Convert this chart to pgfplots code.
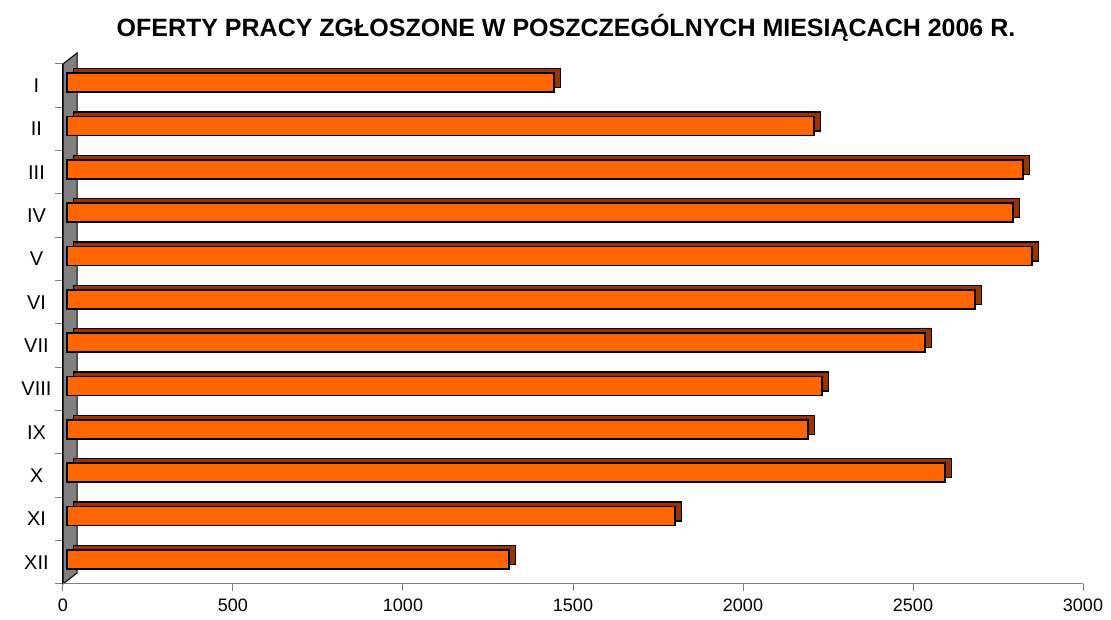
\documentclass[border=0pt]{standalone}
\usepackage{pgfplots}
\pgfplotsset{compat=1.18}
\usepackage{pgfplotstable}
\usepackage{fontspec}
\setmainfont{Liberation Sans}
\definecolor{barorange}{HTML}{FF6600}
\definecolor{bardark}{HTML}{993300}
\definecolor{wallgray}{HTML}{808080}
\definecolor{axgray}{HTML}{808080}

\pgfplotstableread{
pos v
12 1433
11 2197
10 2812
9 2782
8 2838
7 2671
6 2524
5 2221
4 2179
3 2582
2 1788
1 1300
}\datatable

\pgfplotsset{
  barbase/.style={
    at={(#1)}, anchor=south west, scale only axis,
    width=1020pt, height=520pt,
    xmin=0, xmax=3000, ymin=0.5, ymax=12.5,
    hide axis, clip=false,
    xbar, bar width=19pt,
  }
}

\begin{document}
\begin{tikzpicture}[x=1pt,y=1pt]
% back wall
\filldraw[fill=wallgray, draw=black, line width=1pt] (0,0) -- (0,520) -- (14,531) -- (14,11) -- cycle;

\begin{axis}[
  at={(0,0)}, anchor=south west, scale only axis,
  width=1020pt, height=520pt,
  xmin=0, xmax=3000, ymin=0.5, ymax=12.5,
  axis x line*=bottom, axis y line*=left,
  x axis line style={draw=axgray, line width=1pt},
  y axis line style={draw=black, line width=1pt},
  xtick={0,500,...,3000},
  x tick style={draw=axgray, line width=1pt},
  major tick length=7pt,
  tick align=outside,
  ytick={1,...,12},
  yticklabels={XII,XI,X,IX,VIII,VII,VI,V,IV,III,II,I},
  major y tick style={draw=none},
  minor ytick={0.5,1.5,...,12.5},
  minor y tick style={draw=axgray, line width=1pt},
  minor tick length=8pt,
  /pgf/number format/assume math mode=true,
  /pgf/number format/1000 sep={},
  xticklabel style={font=\fontsize{18}{21}\selectfont, yshift=-4pt},
  yticklabel style={font=\fontsize{20}{23}\selectfont, text width=44pt, align=center, xshift=6pt},
]
\end{axis}

\begin{axis}[barbase={10.5pt,7.5pt}]
\addplot[xbar, fill=bardark, draw=black, line width=1.5pt] table[x=v, y=pos] {\datatable};
\end{axis}

\begin{axis}[barbase={4pt,3pt}]
\addplot[xbar, fill=barorange, draw=black, line width=1.6pt] table[x=v, y=pos] {\datatable};
\end{axis}

\node[font=\bfseries\fontsize{25}{29}\selectfont] at (503,556) {OFERTY PRACY ZGŁOSZONE W POSZCZEGÓLNYCH MIESIĄCACH 2006 R.};

\pgfresetboundingbox
\useasboundingbox (-63,-36) rectangle (1048,584);
\end{tikzpicture}
\end{document}
